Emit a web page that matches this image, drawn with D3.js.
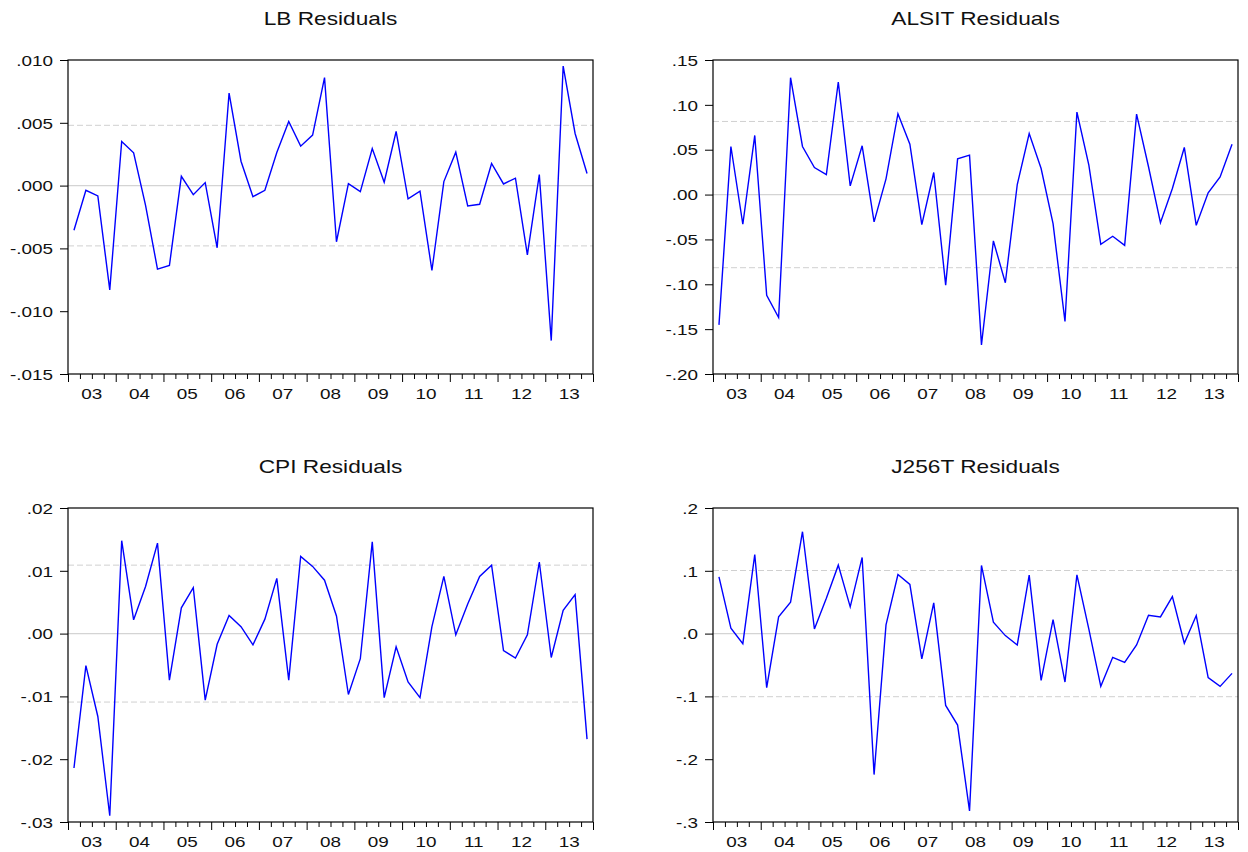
<!DOCTYPE html>
<html>
<head>
<meta charset="utf-8">
<script src="https://cdn.jsdelivr.net/npm/d3@7"></script>
<style>
  body { margin: 0; background: #fff; }
  text { font-family: "Liberation Sans", Arial, sans-serif; fill: #111; }
</style>
</head>
<body>
<script>
// Quarterly residuals, 2003Q1 - 2013Q4 (44 obs)
var years = ["03", "04", "05", "06", "07", "08", "09", "10", "11", "12", "13"];

var lb = [-0.00356, -0.00037, -0.00082, -0.0083, 0.00351, 0.00261, -0.00157, -0.00665,
  -0.00636, 0.00074, -0.00072, 0.00024, -0.00495, 0.00737, 0.00194, -0.00088,
  -0.00037, 0.00263, 0.0051, 0.00314, 0.00402, 0.0086, -0.00447, 0.00016,
  -0.00048, 0.00295, 0.00027, 0.00431, -0.00106, -0.00045, -0.00676, 0.00032,
  0.00266, -0.00162, -0.00149, 0.00176, 0.00013, 0.00059, -0.00551, 0.00088,
  -0.01234, 0.00952, 0.00415, 0.00096];

var alsit = [-0.1452, 0.0536, -0.0331, 0.0659, -0.1124, -0.137, 0.1303, 0.0536,
  0.0302, 0.0223, 0.1255, 0.0097, 0.0544, -0.0305, 0.0175, 0.0901,
  0.0562, -0.0335, 0.0246, -0.1009, 0.0398, 0.0439, -0.1675, -0.0517,
  -0.0983, 0.0112, 0.0681, 0.029, -0.0324, -0.1415, 0.092, 0.0328,
  -0.0555, -0.0465, -0.0566, 0.0897, 0.031, -0.0313, 0.0067, 0.0525,
  -0.0343, 0.0019, 0.0197, 0.0562];

var cpi = [-0.0214, -0.0051, -0.0132, -0.029, 0.0148, 0.0022, 0.0075, 0.0144,
  -0.0074, 0.0041, 0.0073, -0.0106, -0.0017, 0.0029, 0.0011, -0.0018,
  0.0023, 0.0088, -0.0074, 0.0123, 0.0107, 0.0085, 0.0028, -0.0097,
  -0.004, 0.0146, -0.0102, -0.0021, -0.0077, -0.0102, 0.0011, 0.0091,
  -0.0002, 0.0047, 0.0091, 0.0109, -0.0027, -0.0039, -0.0002, 0.0114,
  -0.0038, 0.0037, 0.0062, -0.0168];

var j256t = [0.0904, 0.0085, -0.016, 0.126, -0.0862, 0.0266, 0.05, 0.1622,
  0.0074, 0.0564, 0.109, 0.0426, 0.1213, -0.2245, 0.0138, 0.0941,
  0.0782, -0.0404, 0.0489, -0.1144, -0.1457, -0.2824, 0.1085, 0.0181,
  -0.0032, -0.0181, 0.0931, -0.0745, 0.0223, -0.0771, 0.0936, 0.007,
  -0.084, -0.0378, -0.0457, -0.018, 0.0293, 0.0266, 0.059, -0.0154,
  0.0287, -0.0702, -0.084, -0.0633];

// y tick values and their labels
var lbTicks = [-0.015, -0.010, -0.005, 0, 0.005, 0.010];
var lbLabels = ["-.015", "-.010", "-.005", ".000", ".005", ".010"];
var alsitTicks = [-0.20, -0.15, -0.10, -0.05, 0, 0.05, 0.10, 0.15];
var alsitLabels = ["-.20", "-.15", "-.10", "-.05", ".00", ".05", ".10", ".15"];
var cpiTicks = [-0.03, -0.02, -0.01, 0, 0.01, 0.02];
var cpiLabels = ["-.03", "-.02", "-.01", ".00", ".01", ".02"];
var j256tTicks = [-0.3, -0.2, -0.1, 0, 0.1, 0.2];
var j256tLabels = ["-.3", "-.2", "-.1", ".0", ".1", ".2"];

// dashed reference bands (+/-)
var bands = [0.0048, 0.0815, 0.0109, 0.1005];

var svg = d3.select("body").append("svg").attr("width", 1248).attr("height", 852);
svg.append("rect").attr("width", 1248).attr("height", 852).attr("fill", "#fff");

var sx = 1.26; // horizontal stretch of the text in the original

function panel(title, data, ticks, labels, band, left, top) {
    var w = 525, h = 314;
    var g = svg.append("g").attr("transform", "translate(" + left + "," + top + ")");

    var x = d3.scaleLinear().domain([0, data.length]).range([0, w]);
    var y = d3.scaleLinear().domain([ticks[0], ticks[ticks.length - 1]]).range([h, 0]);

    // zero line and bands
    g.append("line").attr("x1", 0).attr("x2", w).attr("y1", y(0)).attr("y2", y(0))
        .attr("stroke", "#d4d4d4").attr("stroke-width", 1.2);
    [band, -band].forEach(function(b) {
        g.append("line").attr("x1", 0).attr("x2", w).attr("y1", y(b)).attr("y2", y(b))
            .attr("stroke", "#d0d0d0").attr("stroke-width", 1).attr("stroke-dasharray", "6,3");
    });

    // series
    var line = d3.line().x(function(d, i) { return x(i + 0.5); }).y(function(d) { return y(d); });
    g.append("path").datum(data).attr("d", line)
        .attr("fill", "none").attr("stroke", "#0000ff").attr("stroke-width", 1.4);

    // frame
    g.append("rect").attr("width", w).attr("height", h)
        .attr("fill", "none").attr("stroke", "#000").attr("stroke-width", 1.2);

    // y axis
    var ya = g.append("g").call(d3.axisLeft(y).tickValues(ticks).tickSize(8)
        .tickFormat(function(d, i) { return labels[i]; }));
    ya.select(".domain").remove();
    ya.selectAll("line").attr("stroke", "#000");
    ya.selectAll("text").attr("x", 0).attr("dy", "0.35em").style("font-size", "15px")
        .attr("transform", "translate(-15,0) scale(" + sx + ",1)");

    // x axis: quarter ticks, longer at years
    var xa = g.append("g").attr("transform", "translate(0," + h + ")")
        .call(d3.axisBottom(x).tickValues(d3.range(data.length + 1)).tickSize(5).tickFormat(""));
    xa.select(".domain").remove();
    xa.selectAll("line").attr("stroke", "#000")
        .attr("y2", function(d) { return d % 4 === 0 ? 8 : 5; });

    g.selectAll(".yr").data(years).enter().append("text")
        .attr("transform", function(d, i) { return "translate(" + x(i * 4 + 2) + "," + (h + 25) + ") scale(" + sx + ",1)"; })
        .attr("text-anchor", "middle").style("font-size", "15px").text(function(d) { return d; });

    // title
    svg.append("text")
        .attr("transform", "translate(" + (left + w / 2) + "," + (top - 35) + ") scale(" + sx + ",1)")
        .attr("text-anchor", "middle").style("font-size", "18px").text(title);
}

panel("LB Residuals", lb, lbTicks, lbLabels, bands[0], 68, 60);
panel("ALSIT Residuals", alsit, alsitTicks, alsitLabels, bands[1], 713, 60);
panel("CPI Residuals", cpi, cpiTicks, cpiLabels, bands[2], 68, 508);
panel("J256T Residuals", j256t, j256tTicks, j256tLabels, bands[3], 713, 508);
</script>
</body>
</html>
